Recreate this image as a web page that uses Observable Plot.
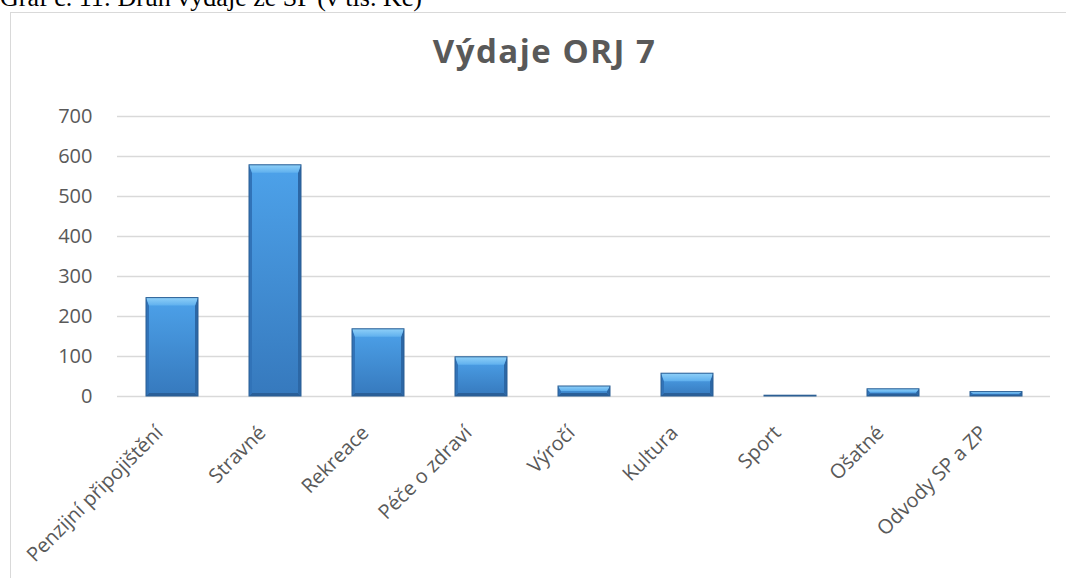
<!DOCTYPE html>
<html>
<head>
<meta charset="utf-8">
<script src="https://cdn.jsdelivr.net/npm/d3@7"></script>
<script src="https://cdn.jsdelivr.net/npm/@observablehq/plot@0.6"></script>
<style>
  html, body { margin: 0; padding: 0; background: #fff; }
  #page { position: relative; width: 1066px; height: 578px; overflow: hidden; background: #fff; }
  #caption { position: absolute; left: 0; top: -15px; line-height: 26px; font-family: "Liberation Serif", "Times New Roman", serif; font-size: 26px; color: #000; white-space: nowrap; }
  #frame { position: absolute; left: 10px; top: 12px; width: 1100px; height: 700px; border: 1.5px solid #d9d9d9; box-sizing: border-box; }
  #title { position: absolute; left: 0; width: 1089px; top: 34px; line-height: 33px; text-align: center; font-family: "Open Sans", Lato, sans-serif; font-weight: bold; font-size: 33px; letter-spacing: 1.5px; color: #595959; }
  #chart { position: absolute; left: 0; top: 0; }
</style>
</head>
<body>
<div id="page">
  <div id="caption">Graf č. 11: Druh výdaje ze SP (v tis. Kč)</div>
  <div id="frame"></div>
  <div id="title">Výdaje ORJ 7</div>
  <div id="chart"></div>
</div>
<script>
const categories = ["Penzijní připojištění", "Stravné", "Rekreace", "Péče o zdraví", "Výročí", "Kultura", "Sport", "Ošatné", "Odvody SP a ZP"];
const values = [246, 578, 168, 98, 25, 57, 2, 18, 11];
const yTicks = [0, 100, 200, 300, 400, 500, 600, 700];

const data = categories.map((c, i) => ({category: c, value: values[i]}));

function bevelRender(index, scales, values, dimensions, context, next) {
  const g = next(index, scales, values, dimensions, context);
  const ns = "http://www.w3.org/2000/svg";
  const rects = Array.from(g.querySelectorAll("rect"));
  for (const r of rects) {
    const x = +r.getAttribute("x"), y = +r.getAttribute("y");
    const w = +r.getAttribute("width"), h = +r.getAttribute("height");
    const parent = r.parentNode;
    const bt = Math.min(8, h / 2), bs = Math.min(3, w / 4), bb = Math.min(3, h / 3);
    const polys = [
      {pts: [[x, y], [x + w, y], [x + w - bs, y + bt], [x + bs, y + bt]], fill: "url(#bevTop)"},
      {pts: [[x, y], [x + bs, y + bt], [x + bs, y + h - bb], [x, y + h]], fill: "#3173b8"},
      {pts: [[x + w, y], [x + w - bs, y + bt], [x + w - bs, y + h - bb], [x + w, y + h]], fill: "#2c67a5"},
      {pts: [[x, y + h], [x + bs, y + h - bb], [x + w - bs, y + h - bb], [x + w, y + h]], fill: "#2a5f98"}
    ];
    for (const p of polys) {
      const el = document.createElementNS(ns, "polygon");
      el.setAttribute("points", p.pts.map(q => q.join(",")).join(" "));
      el.setAttribute("fill", p.fill);
      parent.insertBefore(el, r.nextSibling);
    }
    const outline = document.createElementNS(ns, "rect");
    outline.setAttribute("x", x); outline.setAttribute("y", y);
    outline.setAttribute("width", w); outline.setAttribute("height", h);
    outline.setAttribute("fill", "none");
    outline.setAttribute("stroke", "#2b5f94");
    outline.setAttribute("stroke-width", "1");
    parent.appendChild(outline);
  }
  return g;
}

const chart = Plot.plot({
  width: 1066,
  height: 578,
  marginTop: 116,
  marginBottom: 182,
  marginLeft: 117,
  marginRight: 16,
  style: {fontFamily: "'Open Sans', Lato, sans-serif", background: "transparent", color: "#595959"},
  x: {domain: categories, paddingInner: 0.5, paddingOuter: 0.25, label: null},
  y: {domain: [0, 700], ticks: yTicks, label: null},
  marks: [
    Plot.gridY(yTicks, {stroke: "#d9d9d9", strokeOpacity: 1, strokeWidth: 1.5}),
    Plot.axisY(yTicks, {tickSize: 0, tickPadding: 25, fontSize: 20, fill: "#595959", label: null}),
    Plot.axisX({tickSize: 0, tickPadding: 33, dx: -13, tickRotate: -45, fontSize: 20, fill: "#595959", label: null}),
    Plot.barY(data, {x: "category", y: "value", fill: "url(#bevFace)", render: bevelRender})
  ]
});

const ns = "http://www.w3.org/2000/svg";
const defs = document.createElementNS(ns, "defs");
defs.innerHTML = `
  <linearGradient id="bevFace" x1="0" y1="0" x2="0" y2="1">
    <stop offset="0" stop-color="#4da2ea"/>
    <stop offset="1" stop-color="#3679bd"/>
  </linearGradient>
  <linearGradient id="bevTop" x1="0" y1="0" x2="0" y2="1">
    <stop offset="0" stop-color="#8fd0f8"/>
    <stop offset="1" stop-color="#5fb0ee"/>
  </linearGradient>`;
chart.insertBefore(defs, chart.firstChild);
document.getElementById("chart").appendChild(chart);
</script>
</body>
</html>
